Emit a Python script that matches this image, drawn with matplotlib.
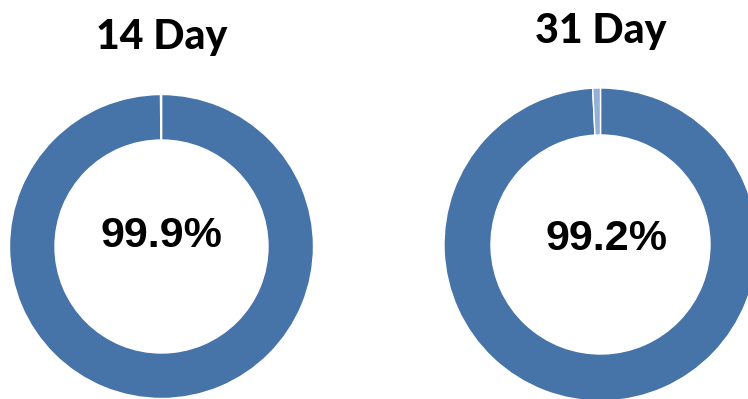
import matplotlib
matplotlib.use("Agg")
import matplotlib.pyplot as plt

# data
titles = ["14 Day", "31 Day"]
on_time = [99.9, 99.2]
labels = ["99.9%", "99.2%"]

dark = "#4673A8"
light = "#95B0D6"

# layout in pixels (y measured upward)
centers = [(161.5, 152.5), (600.5, 154.5)]
radii = [152, 156.5]
holes = [106.5, 109.5]
title_pos = [(162, 350), (600.5, 356)]
label_pos = [(161, 152), (607, 149)]

fig = plt.figure(figsize=(7.48, 3.99), dpi=100)
ax = fig.add_axes([0, 0, 1, 1])

for i in range(2):
    vals = [on_time[i], 100 - on_time[i]]
    ax.pie(vals, colors=[dark, light], startangle=90, counterclock=False,
           center=centers[i], radius=radii[i], frame=True,
           wedgeprops=dict(width=radii[i] - holes[i], edgecolor="white", linewidth=1))
    ax.text(title_pos[i][0], title_pos[i][1], titles[i], ha="center", va="baseline",
            fontsize=29.5, fontweight="black", family="Lato")
    ax.text(label_pos[i][0], label_pos[i][1], labels[i], ha="center", va="baseline",
            fontsize=31, fontweight="bold", family="Liberation Sans")

ax.set_xlim(0, 748)
ax.set_ylim(0, 399)
ax.set_aspect("equal")
ax.axis("off")
fig.savefig("out.png", dpi=100)
